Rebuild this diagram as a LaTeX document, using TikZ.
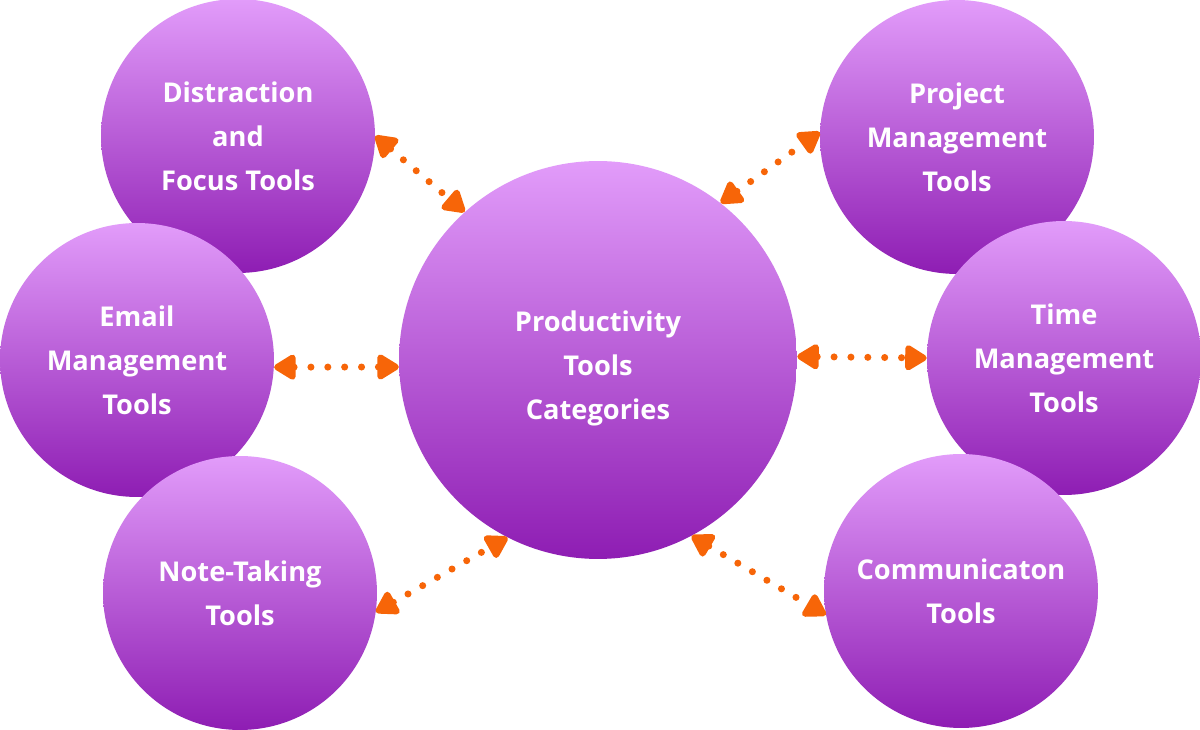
\documentclass[tikz,border=0pt]{standalone}
\usepackage{fontspec}
\setmainfont{Open Sans}
\usetikzlibrary{arrows.meta}
\definecolor{hubtop}{HTML}{E29CFA}
\definecolor{hubbottom}{HTML}{8E1DB3}
\definecolor{linkorange}{HTML}{F76508}
\tikzset{
  tool bubble/.style={circle, inner sep=0pt, minimum size=5.48cm,
    top color=hubtop, bottom color=hubbottom, draw=none,
    text=white, align=center, text depth=0pt,
    font=\bfseries\fontsize{15.5}{25}\selectfont},
  hub bubble/.style={tool bubble, minimum size=7.96cm, text height=68pt},
  dotted link/.style={draw=linkorange, line width=4pt, line cap=round,
    dash pattern=on 0pt off 9.6pt,
    {Triangle[length=14pt, width=16pt, round]}-{Triangle[length=14pt, width=16pt, round]}},
}

\begin{document}
\begin{tikzpicture}[x=0.02cm, y=0.02cm]
  \fill[white] (0,0) rectangle (1200,730);
  \useasboundingbox (0,0) rectangle (1200,730);

  % upper bubbles first, lower ones overlap them
  \node[tool bubble] (dist) at (238,594) {Distraction\\and\\Focus Tools};
  \node[tool bubble] (email) at (137,370) {Email\\Management\\Tools};
  \node[tool bubble] (note) at (240,137) {Note-Taking\\Tools};
  \node[tool bubble] (project) at (957,593) {Project\\Management\\Tools};
  \node[tool bubble] (time) at (1064,372) {Time\\Management\\Tools};
  \node[tool bubble] (comm) at (961,139) {Communicaton\\Tools};
  \node[hub bubble] (hub) at (598,370) {Productivity\\Tools\\Categories};

  \draw[dotted link] (dist.0) -- (hub.132);
  \draw[dotted link] (email.-3) -- (hub.182);
  \draw[dotted link] (note.-8) -- (hub.243);
  \draw[dotted link] (hub.52) -- (project.178);
  \draw[dotted link] (hub.1) -- (time.180);
  \draw[dotted link] (hub.298) -- (comm.190);
\end{tikzpicture}
\end{document}
